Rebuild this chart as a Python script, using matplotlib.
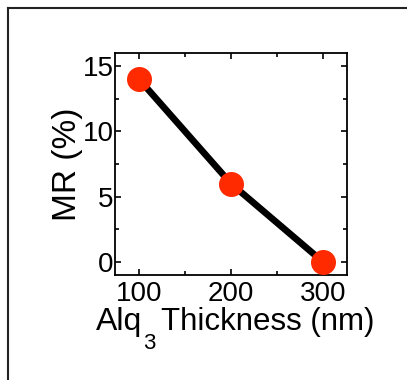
import matplotlib
matplotlib.use("Agg")
import matplotlib.pyplot as plt
from matplotlib.lines import Line2D
from matplotlib.ticker import MultipleLocator

thickness = [100, 200, 300]
mr = [14, 6, 0]

plt.rcParams['font.family'] = ['Liberation Sans', 'DejaVu Sans']

W, H = 407, 380
fig = plt.figure(figsize=(W / 100, H / 100), dpi=100)
ax = fig.add_axes([0.2826, 0.2763, 0.57, 0.5842])

ax.plot(thickness, mr, color='black', lw=4.8, zorder=2)
ax.plot(thickness, mr, 'o', color='#ff2a00', markersize=18, mec='none', zorder=3)

ax.set_xlim(74, 326)
ax.set_ylim(-1, 16)
ax.xaxis.set_major_locator(MultipleLocator(100))
ax.xaxis.set_minor_locator(MultipleLocator(50))
ax.yaxis.set_major_locator(MultipleLocator(5))
ax.yaxis.set_minor_locator(MultipleLocator(2.5))

ax.tick_params(which='both', direction='in', top=True, right=True, width=1.2)
ax.tick_params(which='major', length=4, labelsize=20)
ax.tick_params(which='minor', length=3)
ax.tick_params(axis='x', pad=4)
ax.tick_params(axis='y', pad=1)
for s in ax.spines.values():
    s.set_linewidth(1.3)

ax.set_ylabel('MR (%)', fontsize=24, labelpad=0)

# x label built from pieces so the subscript sits low like the original
base = 1 - 330 / H
t1 = fig.text(96 / W, base, 'Alq', fontsize=23, va='baseline')
fig.canvas.draw()
r = t1.get_window_extent().x1
fig.text((r + 0.5) / W, base - 19 / H, '3', fontsize=16, va='baseline')
fig.text((r + 19) / W, base, 'Thickness (nm)', fontsize=22.5, va='baseline')

# outer frame (top and left only)
fig.add_artist(Line2D([8 / W, 1], [1 - 8 / H, 1 - 8 / H],
                      transform=fig.transFigure, color='#222222', lw=1.5))
fig.add_artist(Line2D([8 / W, 8 / W], [0, 1 - 8 / H],
                      transform=fig.transFigure, color='#222222', lw=1.5))

fig.savefig('out.png', dpi=100)
